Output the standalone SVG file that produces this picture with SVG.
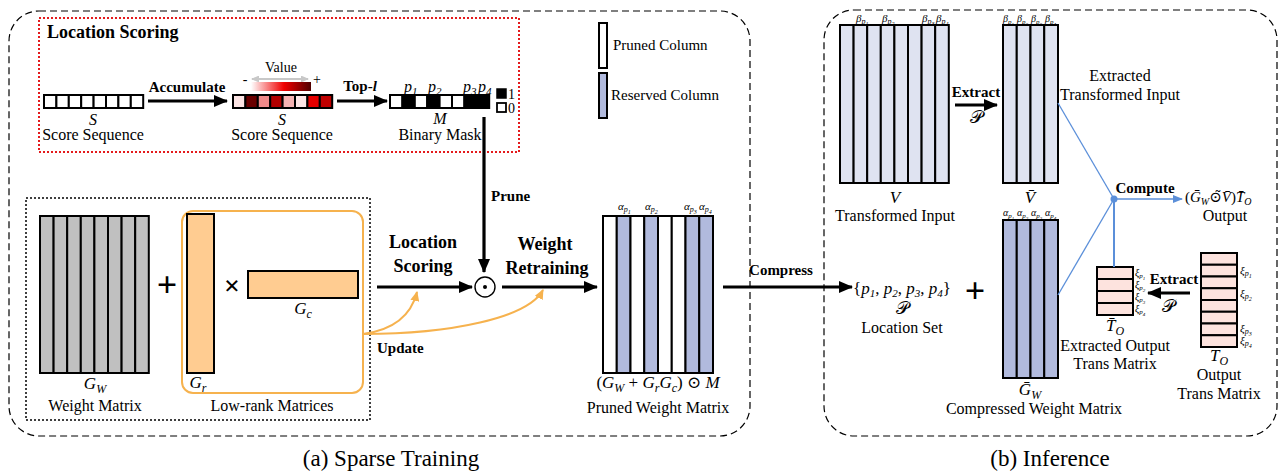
<svg xmlns="http://www.w3.org/2000/svg" width="1283" height="473" viewBox="0 0 1283 473" font-family="'Liberation Serif', 'Times New Roman', Times, 'DejaVu Serif', serif">
<style>
text{font-family:'Liberation Serif','Times New Roman',Times,'DejaVu Serif',serif;fill:#000}
.b{font-weight:bold}
.i{font-style:italic}
.t16{font-size:16px}
.t15{font-size:15px}
.mid{text-anchor:middle}
.blk{stroke:#000;stroke-width:2}
.arr{stroke:#000;stroke-width:3.2;fill:none}
.org{stroke:#f6b24e;stroke-width:2;fill:none}
.blu{stroke:#5b8fd9;fill:none}
.gw{fill:#c0c0c0}
.vc{fill:#dfe3f1}
.rc{fill:#b1badd}
.wc{fill:#fff}
.pk{fill:#fde3de}
.sm{font-size:11px}
.cal{font-size:18px;font-style:normal}
</style>
<defs>
<marker id="ab" viewBox="0 0 14 12" refX="13" refY="6" markerWidth="14" markerHeight="12" markerUnits="userSpaceOnUse" orient="auto"><path d="M0,0 L14,6 L0,12 z" fill="#000"/></marker>
<marker id="ao" viewBox="0 0 10 9" refX="9" refY="4.5" markerWidth="10" markerHeight="9" markerUnits="userSpaceOnUse" orient="auto"><path d="M0,0 L10,4.5 L0,9 z" fill="#f6b24e"/></marker>
<marker id="abl" viewBox="0 0 10 8" refX="9" refY="4" markerWidth="10" markerHeight="8" markerUnits="userSpaceOnUse" orient="auto"><path d="M0,0 L10,4 L0,8 z" fill="#5b8fd9"/></marker>
<marker id="ag" viewBox="0 0 8 7" refX="7" refY="3.5" markerWidth="8" markerHeight="7" markerUnits="userSpaceOnUse" orient="auto-start-reverse"><path d="M0,0 L8,3.5 L0,7 z" fill="#c8c8c8"/></marker>
<linearGradient id="gv" x1="0" x2="1" y1="0" y2="0"><stop offset="0" stop-color="#fff"/><stop offset="0.55" stop-color="#f00000"/><stop offset="1" stop-color="#500000"/></linearGradient>
</defs>

<g id="panel-a">
<rect x="9" y="11" width="741" height="425" rx="30" fill="none" stroke="#000" stroke-width="1.2" stroke-dasharray="7,4"/>
<text x="391" y="466" class="mid" font-size="23">(a) Sparse Training</text>
</g>
<g id="panel-b">
<rect x="824" y="10" width="453" height="426" rx="30" fill="none" stroke="#000" stroke-width="1.2" stroke-dasharray="7,4"/>
<text x="1050" y="466" class="mid" font-size="23">(b) Inference</text>
</g>

<g id="location-scoring">
<rect x="39" y="18" width="480" height="134" fill="none" stroke="#e41a1c" stroke-width="2" stroke-dasharray="2,2"/>
<text x="47" y="38" class="b" font-size="18">Location Scoring</text>
</g>

<g id="score-seq-1">
<g class="blk" fill="#fff">
<rect x="44" y="95" width="12.4" height="13"/><rect x="56.4" y="95" width="12.4" height="13"/><rect x="68.8" y="95" width="12.4" height="13"/><rect x="81.2" y="95" width="12.4" height="13"/><rect x="93.6" y="95" width="12.4" height="13"/><rect x="106" y="95" width="12.4" height="13"/><rect x="118.4" y="95" width="12.4" height="13"/><rect x="130.8" y="95" width="12.4" height="13"/>
</g>
<text x="93" y="125" class="mid i t16">S</text>
<text x="93" y="140" class="mid t16">Score Sequence</text>
</g>

<g id="value-legend">
<text x="281" y="72" class="mid" font-size="14">Value</text>
<line x1="252" y1="79" x2="308" y2="79" stroke="#c8c8c8" stroke-width="2" marker-start="url(#ag)" marker-end="url(#ag)"/>
<text x="245" y="84" class="mid" font-size="14">-</text>
<text x="317" y="84" class="mid" font-size="14">+</text>
<rect x="251" y="82" width="60" height="9" fill="url(#gv)"/>
</g>

<g id="score-seq-2">
<g class="blk">
<rect x="233" y="95" width="12.4" height="13" fill="#fce4e4"/><rect x="245.4" y="95" width="12.4" height="13" fill="#6a0000"/><rect x="257.8" y="95" width="12.4" height="13" fill="#f08a8a"/><rect x="270.2" y="95" width="12.4" height="13" fill="#b30000"/><rect x="282.6" y="95" width="12.4" height="13" fill="#f5b3b3"/><rect x="295" y="95" width="12.4" height="13" fill="#fde6e6"/><rect x="307.4" y="95" width="12.4" height="13" fill="#e60000"/><rect x="319.8" y="95" width="12.4" height="13" fill="#c00000"/>
</g>
<text x="282" y="125" class="mid i t16">S</text>
<text x="282" y="140" class="mid t16">Score Sequence</text>
</g>

<g id="binary-mask">
<g class="blk">
<rect x="390" y="95" width="12.4" height="13" fill="#fff"/><rect x="402.4" y="95" width="12.4" height="13" fill="#000"/><rect x="414.8" y="95" width="12.4" height="13" fill="#fff"/><rect x="427.2" y="95" width="12.4" height="13" fill="#000"/><rect x="439.6" y="95" width="12.4" height="13" fill="#fff"/><rect x="452" y="95" width="12.4" height="13" fill="#fff"/><rect x="464.4" y="95" width="12.4" height="13" fill="#000"/><rect x="476.8" y="95" width="12.4" height="13" fill="#000"/>
</g>
<text x="404" y="92" class="i t16">p<tspan font-size="11" dy="3">1</tspan></text>
<text x="428" y="92" class="i t16">p<tspan font-size="11" dy="3">2</tspan></text>
<text x="463" y="92" class="i t16">p<tspan font-size="11" dy="3">3</tspan></text>
<text x="478" y="92" class="i t16">p<tspan font-size="11" dy="3">4</tspan></text>
<text x="440" y="124" class="mid i t16">M</text>
<text x="440" y="140" class="mid t16">Binary Mask</text>
<rect x="497" y="89" width="9" height="9" fill="#000" stroke="#000" stroke-width="1.5"/>
<text x="508" y="99" font-size="14">1</text>
<rect x="497" y="103" width="9" height="9" fill="#fff" stroke="#000" stroke-width="1.8"/>
<text x="508" y="113" font-size="14">0</text>
</g>

<g id="legend">
<rect x="599" y="23" width="8" height="45" class="wc blk"/>
<text x="613" y="50" class="t15">Pruned Column</text>
<rect x="599" y="73" width="8" height="45" class="rc blk"/>
<text x="611" y="100" class="t15">Reserved Column</text>
</g>

<g id="weight-group">
<rect x="26" y="198" width="344" height="222" fill="none" stroke="#000" stroke-width="1.5" stroke-dasharray="2,2"/>
</g>
<g id="weight-matrix">
<g class="blk gw">
<rect x="40" y="216" width="13.6" height="157"/><rect x="53.6" y="216" width="13.6" height="157"/><rect x="67.2" y="216" width="13.6" height="157"/><rect x="80.8" y="216" width="13.6" height="157"/><rect x="94.4" y="216" width="13.6" height="157"/><rect x="108" y="216" width="13.6" height="157"/><rect x="121.6" y="216" width="13.6" height="157"/><rect x="135.2" y="216" width="13.6" height="157"/>
</g>
<text x="95" y="389" class="mid i" font-size="17">G<tspan font-size="12" dy="4">W</tspan></text>
<text x="95" y="411" class="mid t16">Weight Matrix</text>
</g>
<text x="167" y="297" class="mid b" font-size="36">+</text>
<g id="low-rank">
<rect x="182" y="211" width="181" height="182" rx="11" class="org"/>
<rect x="187" y="214" width="27" height="159" fill="#ffcc91" class="blk"/>
<text x="232" y="295" class="mid b" font-size="28">×</text>
<rect x="248" y="271" width="110" height="27" fill="#ffcc91" class="blk"/>
<text x="303" y="314" class="mid i" font-size="17">G<tspan font-size="12" dy="4">c</tspan></text>
<text x="198" y="388" class="mid i" font-size="17">G<tspan font-size="12" dy="4">r</tspan></text>
<text x="272" y="411" class="mid t16">Low-rank Matrices</text>
</g>

<g id="odot">
<circle cx="485" cy="287" r="10" fill="#fff" stroke="#000" stroke-width="1.4"/>
<circle cx="485" cy="287" r="2" fill="#000"/>
</g>

<g id="pruned-matrix">
<g class="blk">
<rect x="603" y="216" width="13.75" height="157" class="wc"/><rect x="616.75" y="216" width="13.75" height="157" class="rc"/><rect x="630.5" y="216" width="13.75" height="157" class="wc"/><rect x="644.25" y="216" width="13.75" height="157" class="rc"/><rect x="658" y="216" width="13.75" height="157" class="wc"/><rect x="671.75" y="216" width="13.75" height="157" class="wc"/><rect x="685.5" y="216" width="13.75" height="157" class="rc"/><rect x="699.25" y="216" width="13.75" height="157" class="rc"/>
</g>
<text x="618" y="210" class="i sm">α<tspan font-size="8" dy="2">p</tspan><tspan font-size="6" dy="2">1</tspan></text>
<text x="645" y="210" class="i sm">α<tspan font-size="8" dy="2">p</tspan><tspan font-size="6" dy="2">2</tspan></text>
<text x="684" y="210" class="i sm">α<tspan font-size="8" dy="2">p</tspan><tspan font-size="6" dy="2">3</tspan></text>
<text x="699" y="210" class="i sm">α<tspan font-size="8" dy="2">p</tspan><tspan font-size="6" dy="2">4</tspan></text>
<text x="658" y="388" class="mid" font-size="17">(<tspan class="i">G</tspan><tspan class="i" font-size="12" dy="4">W</tspan><tspan dy="-4"> + </tspan><tspan class="i">G</tspan><tspan class="i" font-size="12" dy="4">r</tspan><tspan class="i" dy="-4">G</tspan><tspan class="i" font-size="12" dy="4">c</tspan><tspan dy="-4">) ⊙ </tspan><tspan class="i">M</tspan></text>
<text x="658" y="413" class="mid t16">Pruned Weight Matrix</text>
</g>

<g id="transformed-input">
<g class="blk vc">
<rect x="840" y="25" width="13.6" height="158"/><rect x="853.6" y="25" width="13.6" height="158"/><rect x="867.2" y="25" width="13.6" height="158"/><rect x="880.8" y="25" width="13.6" height="158"/><rect x="894.4" y="25" width="13.6" height="158"/><rect x="908" y="25" width="13.6" height="158"/><rect x="921.6" y="25" width="13.6" height="158"/><rect x="935.2" y="25" width="13.6" height="158"/>
</g>
<text x="856" y="22" class="i sm">β<tspan font-size="8" dy="2">p</tspan><tspan font-size="6" dy="2">1</tspan></text>
<text x="882" y="22" class="i sm">β<tspan font-size="8" dy="2">p</tspan><tspan font-size="6" dy="2">2</tspan></text>
<text x="922" y="22" class="i sm">β<tspan font-size="8" dy="2">p</tspan><tspan font-size="6" dy="2">3</tspan></text>
<text x="936" y="22" class="i sm">β<tspan font-size="8" dy="2">p</tspan><tspan font-size="6" dy="2">4</tspan></text>
<text x="895" y="203" class="mid i" font-size="17">V</text>
<text x="895" y="221" class="mid t16">Transformed Input</text>
</g>

<g id="extracted-input">
<g class="blk vc">
<rect x="1003" y="25" width="13.75" height="158"/><rect x="1016.75" y="25" width="13.75" height="158"/><rect x="1030.5" y="25" width="13.75" height="158"/><rect x="1044.25" y="25" width="13.75" height="158"/>
</g>
<text x="1003" y="22" class="i" font-size="10">β<tspan font-size="7" dy="2">p</tspan><tspan font-size="5" dy="2">1</tspan></text>
<text x="1017" y="22" class="i" font-size="10">β<tspan font-size="7" dy="2">p</tspan><tspan font-size="5" dy="2">2</tspan></text>
<text x="1031" y="22" class="i" font-size="10">β<tspan font-size="7" dy="2">p</tspan><tspan font-size="5" dy="2">3</tspan></text>
<text x="1045" y="22" class="i" font-size="10">β<tspan font-size="7" dy="2">p</tspan><tspan font-size="5" dy="2">4</tspan></text>
<text x="1030" y="203" class="mid i" font-size="17">V̄</text>
<text x="1120" y="81" class="mid t16">Extracted</text>
<text x="1120" y="100" class="mid t16">Transformed Input</text>
</g>

<g id="compressed-weight">
<g class="blk rc">
<rect x="1003" y="220" width="13.75" height="158"/><rect x="1016.75" y="220" width="13.75" height="158"/><rect x="1030.5" y="220" width="13.75" height="158"/><rect x="1044.25" y="220" width="13.75" height="158"/>
</g>
<text x="1003" y="216" class="i" font-size="10">α<tspan font-size="7" dy="2">p</tspan><tspan font-size="5" dy="2">1</tspan></text>
<text x="1017" y="216" class="i" font-size="10">α<tspan font-size="7" dy="2">p</tspan><tspan font-size="5" dy="2">2</tspan></text>
<text x="1031" y="216" class="i" font-size="10">α<tspan font-size="7" dy="2">p</tspan><tspan font-size="5" dy="2">3</tspan></text>
<text x="1045" y="216" class="i" font-size="10">α<tspan font-size="7" dy="2">p</tspan><tspan font-size="5" dy="2">4</tspan></text>
<text x="1030" y="395" class="mid i" font-size="17">Ḡ<tspan font-size="12" dy="4">W</tspan></text>
<text x="1034" y="414" class="mid t16">Compressed Weight Matrix</text>
</g>

<g id="location-set">
<text x="902" y="294" class="mid" font-size="17">{<tspan class="i">p</tspan><tspan class="i" font-size="11" dy="3">1</tspan><tspan dy="-3">, </tspan><tspan class="i">p</tspan><tspan class="i" font-size="11" dy="3">2</tspan><tspan dy="-3">, </tspan><tspan class="i">p</tspan><tspan class="i" font-size="11" dy="3">3</tspan><tspan dy="-3">, </tspan><tspan class="i">p</tspan><tspan class="i" font-size="11" dy="3">4</tspan><tspan dy="-3">}</tspan></text>
<text x="902" y="314" class="mid cal">𝒫</text>
<text x="902" y="333" class="mid t16">Location Set</text>
</g>
<text x="975" y="303" class="mid b" font-size="36">+</text>

<g id="extracted-output">
<g class="blk pk">
<rect x="1097" y="267" width="36" height="12"/><rect x="1097" y="279" width="36" height="12"/><rect x="1097" y="291" width="36" height="12"/><rect x="1097" y="303" width="36" height="12"/>
</g>
<text x="1135" y="276" class="i" font-size="10">ξ<tspan font-size="7" dy="2">p</tspan><tspan font-size="5" dy="2">1</tspan></text>
<text x="1135" y="288" class="i" font-size="10">ξ<tspan font-size="7" dy="2">p</tspan><tspan font-size="5" dy="2">2</tspan></text>
<text x="1135" y="300" class="i" font-size="10">ξ<tspan font-size="7" dy="2">p</tspan><tspan font-size="5" dy="2">3</tspan></text>
<text x="1135" y="312" class="i" font-size="10">ξ<tspan font-size="7" dy="2">p</tspan><tspan font-size="5" dy="2">4</tspan></text>
<text x="1115" y="331" class="mid i" font-size="17">T̄<tspan font-size="12" dy="4">O</tspan></text>
<text x="1115" y="351" class="mid t16">Extracted Output</text>
<text x="1115" y="369" class="mid t16">Trans Matrix</text>
</g>

<g id="output-trans">
<g class="blk pk">
<rect x="1201" y="253" width="36" height="11.75"/><rect x="1201" y="264.75" width="36" height="11.75"/><rect x="1201" y="276.5" width="36" height="11.75"/><rect x="1201" y="288.25" width="36" height="11.75"/><rect x="1201" y="300" width="36" height="11.75"/><rect x="1201" y="311.75" width="36" height="11.75"/><rect x="1201" y="323.5" width="36" height="11.75"/><rect x="1201" y="335.25" width="36" height="11.75"/>
</g>
<text x="1240" y="274" class="i sm">ξ<tspan font-size="8" dy="2">p</tspan><tspan font-size="6" dy="2">1</tspan></text>
<text x="1240" y="297" class="i sm">ξ<tspan font-size="8" dy="2">p</tspan><tspan font-size="6" dy="2">2</tspan></text>
<text x="1240" y="332" class="i sm">ξ<tspan font-size="8" dy="2">p</tspan><tspan font-size="6" dy="2">3</tspan></text>
<text x="1240" y="344" class="i sm">ξ<tspan font-size="8" dy="2">p</tspan><tspan font-size="6" dy="2">4</tspan></text>
<text x="1219" y="361" class="mid i" font-size="17">T<tspan font-size="12" dy="4">O</tspan></text>
<text x="1219" y="380" class="mid t16">Output</text>
<text x="1219" y="399" class="mid t16">Trans Matrix</text>
</g>

<g id="output">
<text x="1185" y="202" font-size="15">(<tspan class="i">Ḡ</tspan><tspan class="i" font-size="10" dy="3">W</tspan><tspan dy="-3">⊙̃</tspan><tspan class="i">V̄</tspan>)<tspan class="i">T̄</tspan><tspan class="i" font-size="10" dy="3">O</tspan></text>
<text x="1225" y="221" class="mid t16">Output</text>
</g>

<g id="connectors">
<line x1="148" y1="101" x2="227" y2="101" class="arr" marker-end="url(#ab)"/>
<text x="187" y="92" class="mid b t15">Accumulate</text>
<line x1="337" y1="101" x2="387" y2="101" class="arr" marker-end="url(#ab)"/>
<text x="360" y="91" class="mid b t15">Top-<tspan class="i">l</tspan></text>
<line x1="484" y1="117" x2="484" y2="272" class="arr" marker-end="url(#ab)"/>
<text x="491" y="201" class="b t15">Prune</text>
<line x1="377" y1="287" x2="472" y2="287" class="arr" marker-end="url(#ab)"/>
<text x="423" y="248" class="mid b" font-size="18">Location</text>
<text x="423" y="272" class="mid b" font-size="18">Scoring</text>
<line x1="502" y1="287" x2="597" y2="287" class="arr" marker-end="url(#ab)"/>
<text x="545" y="250" class="mid b" font-size="18">Weight</text>
<text x="547" y="274" class="mid b" font-size="18">Retraining</text>
<path d="M363,334 Q408,328 417,292" class="org" marker-end="url(#ao)"/>
<path d="M363,334 C450,334 528,318 543,290" class="org" marker-end="url(#ao)"/>
<text x="377" y="353" class="b t15">Update</text>
<line x1="723" y1="287" x2="852" y2="287" class="arr" marker-end="url(#ab)"/>
<text x="781" y="275" class="mid b t15">Compress</text>
<line x1="955" y1="105" x2="997" y2="105" class="arr" marker-end="url(#ab)"/>
<text x="976" y="97" class="mid b t15">Extract</text>
<text x="976" y="123" class="mid cal">𝒫</text>
<line x1="1190" y1="293" x2="1148" y2="293" class="arr" marker-end="url(#ab)"/>
<text x="1174" y="284" class="mid b t15">Extract</text>
<text x="1168" y="312" class="mid cal">𝒫</text>
<line x1="1058" y1="103" x2="1114" y2="199" class="blu" stroke-width="1.3"/>
<line x1="1114" y1="199" x2="1058" y2="295" class="blu" stroke-width="1.3"/>
<line x1="1114" y1="199" x2="1114" y2="267" class="blu" stroke-width="2"/>
<line x1="1114" y1="199" x2="1182" y2="199" class="blu" stroke-width="1.5" marker-end="url(#abl)"/>
<circle cx="1114" cy="199" r="3.5" fill="#5b8fd9"/>
<text x="1145" y="193" class="mid b t15">Compute</text>
</g>
</svg>
